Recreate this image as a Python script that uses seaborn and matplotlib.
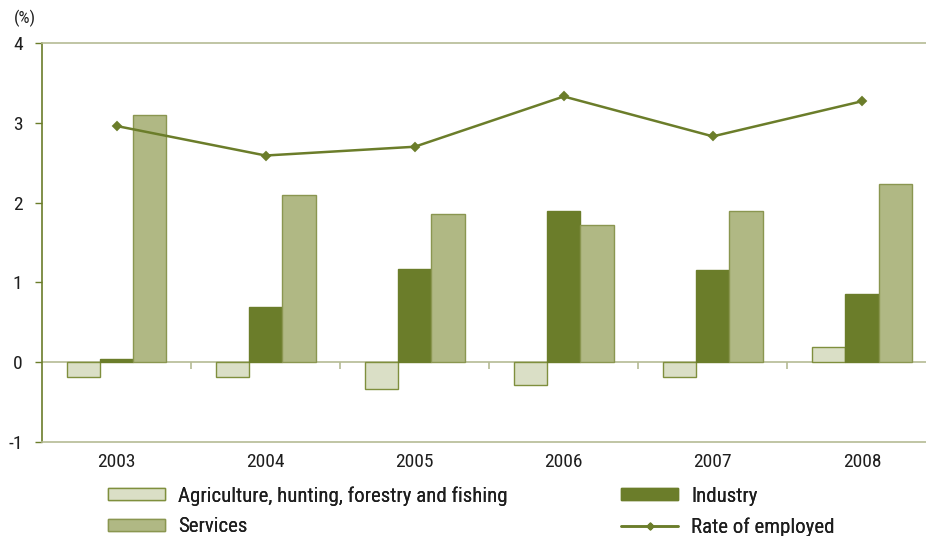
import matplotlib
matplotlib.use("Agg")
import matplotlib.pyplot as plt
from matplotlib import font_manager
from matplotlib.patches import Patch
from matplotlib.lines import Line2D
import seaborn as sns
import pandas as pd
import numpy as np

years = ["2003", "2004", "2005", "2006", "2007", "2008"]
agriculture = [-0.19, -0.19, -0.33, -0.28, -0.19, 0.19]
industry = [0.04, 0.69, 1.17, 1.90, 1.15, 0.85]
services = [3.10, 2.09, 1.86, 1.72, 1.90, 2.23]
rate_employed = [2.96, 2.59, 2.70, 3.33, 2.83, 3.27]
series_names = ["Agriculture, hunting, forestry and fishing", "Industry", "Services"]
rate_name = "Rate of employed"
y_ticks = [-1, 0, 1, 2, 3, 4]

sns.set_theme(style="white")

# pick a condensed sans font if one is installed
fam, stretch, narrow = "DejaVu Sans", "normal", False
entries = font_manager.fontManager.ttflist
def find(pred):
    for f in entries:
        if pred(f) and f.style == "normal" and f.weight in (400, "normal", "regular"):
            return f
    return None
for pred in [
    lambda f: f.name == "Liberation Sans Narrow",
    lambda f: f.name in ("Roboto Condensed", "Noto Sans Condensed", "Open Sans Condensed",
                         "DejaVu Sans Condensed"),
    lambda f: f.name in ("Noto Sans", "Roboto", "DejaVu Sans", "Open Sans")
              and str(f.stretch) in ("condensed", "semi-condensed", "extra-condensed", "500", "400", "300"),
]:
    hit = find(pred)
    if hit is not None:
        fam, stretch, narrow = hit.name, hit.stretch, True
        break
plt.rcParams["font.family"] = [fam, "DejaVu Sans"]
plt.rcParams["font.stretch"] = stretch

fs_tick = 14 if narrow else 11.5
fs_leg = 15 if narrow else 12.5

c_agri = "#dadfc6"
c_ind = "#6b7d2a"
c_serv = "#b0b884"
c_edge_agri = "#7f8f3d"
c_edge_serv = "#8a9650"
c_axis = "#b5bb95"
c_text = "#1e1e1e"

df = pd.DataFrame({
    "year": years * 3,
    "value": agriculture + industry + services,
    "sector": sum([[n] * len(years) for n in series_names], []),
})
df_rate = pd.DataFrame({"year": years, "value": rate_employed})

fig = plt.figure(figsize=(9.26, 5.36), dpi=100)
ax = fig.add_axes([42 / 926, 94 / 536, (926 - 42) / 926, (442 - 43) / 536])

palette = {series_names[0]: c_agri, series_names[1]: c_ind, series_names[2]: c_serv}
sns.barplot(data=df, x="year", y="value", hue="sector", hue_order=series_names,
            palette=palette, saturation=1, width=0.67, edgecolor=c_edge_agri, linewidth=1.0,
            legend=False, ax=ax, zorder=3)
for cont, ec in zip(ax.containers, [c_edge_agri, c_ind, c_edge_serv]):
    for p in cont:
        p.set_edgecolor(ec)
sns.pointplot(data=df_rate, x="year", y="value", color=c_ind, markers="D",
              markersize=4, linewidth=1.8, ax=ax, zorder=4)

ax.axhline(0, color=c_axis, lw=1.2, zorder=2)
n = len(years)
ax.vlines(np.arange(n - 1) + 0.5, 0, -0.09, color=c_axis, lw=1.2, zorder=2)

ax.set_xlim(-0.5, 5.43)
ax.set_ylim(-1, 4)
ax.set_yticks(y_ticks)
ax.set_yticklabels([str(v) for v in y_ticks], fontsize=fs_tick, color=c_text)
ax.tick_params(axis="y", left=True, length=5, width=1, color=c_ind, pad=9)
ax.tick_params(axis="x", bottom=False, length=0, pad=8, labelsize=fs_tick, labelcolor=c_text)
ax.set_xlabel("")
ax.set_ylabel("")
ax.spines["right"].set_visible(False)
ax.spines["left"].set_color(c_ind)
ax.spines["left"].set_linewidth(1.2)
for s in ["top", "bottom"]:
    ax.spines[s].set_color(c_axis)
    ax.spines[s].set_linewidth(1.2)

fig.text(14 / 926, 1 - 18 / 536, "(%)", fontsize=fs_tick - 1.5, color=c_text, va="center", ha="left")

items = [
    (Patch(facecolor=c_agri, edgecolor=c_edge_agri, linewidth=1.0), series_names[0], 108, 496),
    (Patch(facecolor=c_serv, edgecolor=c_edge_serv, linewidth=1.0), series_names[2], 108, 527),
    (Patch(facecolor=c_ind, edgecolor=c_ind, linewidth=1.0), series_names[1], 621, 496),
    (Line2D([], [], color=c_ind, lw=1.8, marker="D", markersize=3.5), rate_name, 621, 527),
]
fs_px = fs_leg * 100 / 72
for h, lab, x, y in items:
    leg = fig.legend([h], [lab], loc="center left", bbox_to_anchor=(x / 926, 1 - y / 536),
                     frameon=False, fontsize=fs_leg, handlelength=57 / fs_px,
                     handleheight=11 / fs_px, handletextpad=13 / fs_px,
                     borderaxespad=0, borderpad=0, labelcolor=c_text)
    fig.add_artist(leg)

fig.savefig("out.png", dpi=100)
